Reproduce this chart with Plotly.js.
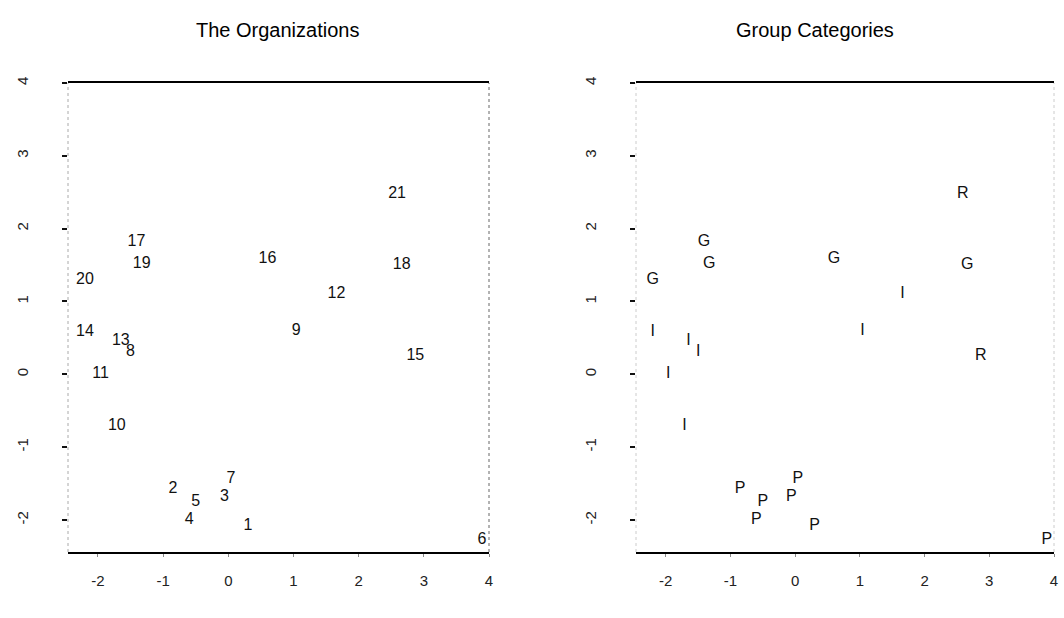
<!DOCTYPE html>
<html>
<head>
<meta charset="utf-8">
<script src="https://cdn.plot.ly/plotly-3.0.1.min.js"></script>
<style>html,body{margin:0;padding:0;background:#fff;}#chart{width:1064px;height:618px;}</style>
</head>
<body>
<div id="chart"></div>
<script>
// Organization labels (left panel) and their group categories (right panel)
const orgLabels = ["1","2","3","4","5","6","7","8","9","10","11","12","13","14","15","16","17","18","19","20","21"];
const groupLabels = ["P","P","P","P","P","P","P","I","I","I","I","I","I","I","R","G","G","G","G","G","R"];
// Coordinates of each organization (dimension 1, dimension 2)
const dim1 = [0.30, -0.85, -0.06, -0.60, -0.50, 3.89, 0.04, -1.50, 1.04, -1.71, -1.96, 1.66, -1.65, -2.20, 2.87, 0.60, -1.41, 2.66, -1.33, -2.20, 2.59];
const dim2 = [-2.08, -1.58, -1.69, -2.00, -1.76, -2.27, -1.44, 0.30, 0.59, -0.71, 0.00, 1.10, 0.46, 0.58, 0.25, 1.58, 1.82, 1.50, 1.52, 1.30, 2.47];
// Axis ticks
const tickVals = [-2, -1, 0, 1, 2, 3, 4];
const tickText = ["-2", "-1", "0", "1", "2", "3", "4"];
const panelTitles = ["The Organizations", "Group Categories"];

const FONT = "Liberation Sans, Arial, Helvetica, sans-serif";

const traces = [
  {x: dim1, y: dim2, text: orgLabels, mode: "text", type: "scatter",
   textfont: {family: FONT, size: 16, color: "#111"}, textposition: "middle center",
   xaxis: "x", yaxis: "y", hoverinfo: "text", showlegend: false},
  {x: dim1, y: dim2, text: groupLabels, mode: "text", type: "scatter",
   textfont: {family: FONT, size: 16, color: "#111"}, textposition: "middle center",
   xaxis: "x2", yaxis: "y2", hoverinfo: "text", showlegend: false}
];

function xAxis(domain, anchor) {
  return {
    domain: domain, anchor: anchor, range: [-2.46, 4.0],
    showgrid: false, zeroline: false,
    showline: true, linecolor: "#000", linewidth: 2, mirror: true,
    ticks: "outside", ticklen: 3, tickwidth: 1, tickcolor: "#888",
    tickvals: tickVals, ticktext: tickText,
    ticklabelstandoff: 11,
    tickfont: {family: FONT, size: 15, color: "#222"},
    fixedrange: true
  };
}
function yAxis(domain, anchor) {
  return {
    domain: domain, anchor: anchor, range: [-2.44, 4.0],
    showgrid: false, zeroline: false, showline: false,
    ticks: "outside", ticklen: 5, tickwidth: 2, tickcolor: "#111",
    tickvals: tickVals, ticktext: tickText, tickangle: -90,
    ticklabelstandoff: 28,
    tickfont: {family: FONT, size: 15, color: "#222"},
    fixedrange: true
  };
}

const yDom = [(618 - 552) / 618, (618 - 83) / 618];
const layout = {
  width: 1064, height: 618,
  margin: {l: 0, r: 0, t: 0, b: 0},
  paper_bgcolor: "#fff", plot_bgcolor: "#fff",
  showlegend: false,
  xaxis: xAxis([68 / 1064, 489 / 1064], "y"),
  yaxis: yAxis(yDom, "x"),
  xaxis2: xAxis([636 / 1064, 1054 / 1064], "y2"),
  yaxis2: yAxis(yDom, "x2"),
  shapes: [
    {type: "line", xref: "x domain", yref: "y domain", x0: 0, x1: 0, y0: 0, y1: 1, line: {color: "#aaa", width: 1, dash: "dot"}},
    {type: "line", xref: "x domain", yref: "y domain", x0: 1, x1: 1, y0: 0, y1: 1, line: {color: "#666", width: 1, dash: "dot"}},
    {type: "line", xref: "x2 domain", yref: "y2 domain", x0: 0, x1: 0, y0: 0, y1: 1, line: {color: "#ccc", width: 1, dash: "dot"}},
    {type: "line", xref: "x2 domain", yref: "y2 domain", x0: 1, x1: 1, y0: 0, y1: 1, line: {color: "#ccc", width: 1, dash: "dot"}}
  ],
  annotations: [
    {text: panelTitles[0], xref: "paper", yref: "paper", x: 277 / 1064, y: (618 - 30) / 618,
     showarrow: false, xanchor: "center", yanchor: "middle", font: {family: FONT, size: 20, color: "#000"}},
    {text: panelTitles[1], xref: "paper", yref: "paper", x: 815 / 1064, y: (618 - 30) / 618,
     showarrow: false, xanchor: "center", yanchor: "middle", font: {family: FONT, size: 20, color: "#000"}}
  ]
};

Plotly.newPlot("chart", traces, layout, {displayModeBar: false, staticPlot: true});
</script>
</body>
</html>
